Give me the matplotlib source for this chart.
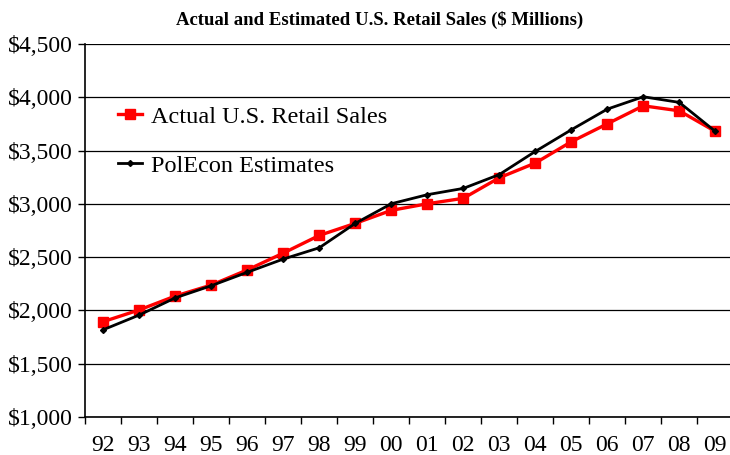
import matplotlib
matplotlib.use("Agg")
import matplotlib.pyplot as plt
from matplotlib.ticker import FixedLocator, FuncFormatter

years = ["92", "93", "94", "95", "96", "97", "98", "99", "00", "01",
         "02", "03", "04", "05", "06", "07", "08", "09"]
actual = [1895, 2005, 2135, 2238, 2380, 2538, 2704, 2817, 2939, 3001,
          3052, 3245, 3383, 3583, 3751, 3920, 3873, 3680]
estimates = [1819, 1957, 2118, 2232, 2358, 2482, 2588, 2817, 3001, 3086,
             3145, 3275, 3492, 3695, 3889, 4005, 3952, 3680]
y_ticks = [1000, 1500, 2000, 2500, 3000, 3500, 4000, 4500]

plt.rcParams['font.family'] = ['Liberation Serif', 'DejaVu Serif']

fig = plt.figure(figsize=(7.3, 4.55), dpi=100)
ax = fig.add_axes([85.3 / 730, (455 - 417) / 455, (733.3 - 85.3) / 730, (417 - 44) / 455])

x = list(range(len(years)))
ax.plot(x, actual, color='#ff0000', lw=2.4, marker='s', markersize=7,
        label='Actual U.S. Retail Sales', zorder=3)
ax.plot(x, estimates, color='black', lw=2.0, marker='D', markersize=3,
        label='PolEcon Estimates', zorder=4)

ax.set_xlim(-0.5, len(years) - 0.5)
ax.set_ylim(1000, 4500)
ax.set_yticks(y_ticks)
ax.yaxis.set_major_formatter(FuncFormatter(lambda v, p: "${:,.0f}".format(v)))
ax.grid(axis='y', color='black', lw=0.9)
ax.set_axisbelow(True)

ax.xaxis.set_major_locator(FixedLocator([i - 0.5 for i in range(len(years) + 1)]))
ax.xaxis.set_minor_locator(FixedLocator(x))
ax.set_xticklabels([])
ax.set_xticklabels(years, minor=True)
ax.tick_params(axis='x', which='major', length=5, width=1, direction='out')
ax.tick_params(axis='x', which='minor', length=0, pad=13, labelsize=17)
ax.tick_params(axis='y', length=5, width=1, labelsize=17, pad=4)

for s in ['top', 'right']:
    ax.spines[s].set_visible(False)
ax.spines['left'].set_linewidth(1.2)
ax.spines['bottom'].set_linewidth(1.2)

ax.legend(loc='upper left', bbox_to_anchor=(0.035, 0.86), frameon=False,
          fontsize=17.5, labelspacing=1.1, handlelength=1.0, handletextpad=0.35,
          borderaxespad=0)

fig.text(380 / 730, 0.975, 'Actual and Estimated U.S. Retail Sales ($ Millions)',
         ha='center', va='top', fontsize=13.5, fontweight='bold')

fig.savefig('out.png', dpi=100)
